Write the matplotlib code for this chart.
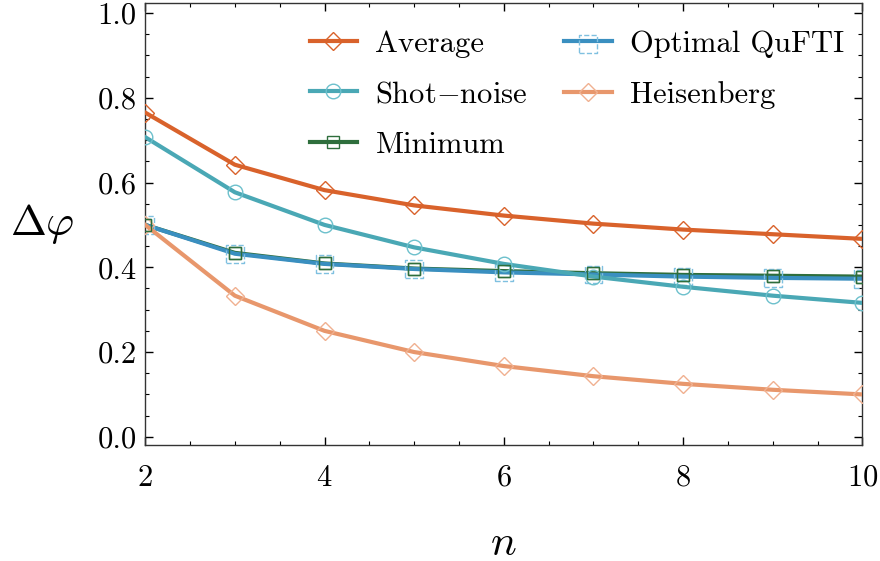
import matplotlib
matplotlib.use("Agg")
import matplotlib.pyplot as plt
from matplotlib.legend_handler import HandlerTuple
from matplotlib.ticker import MultipleLocator

plt.rcParams['font.family'] = 'serif'
plt.rcParams['font.serif'] = ['cmr10']
plt.rcParams['mathtext.fontset'] = 'cm'
plt.rcParams['axes.formatter.use_mathtext'] = True

# data
n = [2, 3, 4, 5, 6, 7, 8, 9, 10]
average = [0.765, 0.642, 0.582, 0.546, 0.522, 0.503, 0.489, 0.478, 0.467]
shot_noise = [0.707, 0.577, 0.500, 0.447, 0.408, 0.378, 0.354, 0.333, 0.316]
minimum = [0.500, 0.434, 0.409, 0.397, 0.391, 0.386, 0.382, 0.380, 0.378]
optimal = [0.500, 0.432, 0.408, 0.396, 0.388, 0.383, 0.378, 0.375, 0.373]
heisenberg = [0.500, 0.333, 0.250, 0.200, 0.167, 0.143, 0.125, 0.111, 0.100]

c_avg = '#d9622b'
c_shot = '#4aa8b5'
c_min = '#2e6e3c'
c_opt = '#3a8fc0'
c_heis = '#e8976c'

fig = plt.figure(figsize=(8.8, 5.61), dpi=100)
ax = fig.add_axes([0.165, 0.207, 0.815, 0.788])

lw = 3.0
l_avg, = ax.plot(n, average, color=c_avg, lw=lw, marker='D', ms=9,
                 mfc='none', mec=c_avg, mew=1.0, zorder=3)
l_shot, = ax.plot(n, shot_noise, color=c_shot, lw=lw, marker='o', ms=10.5,
                  mfc='none', mec='#6cc0cc', mew=1.0, zorder=3)
l_min, = ax.plot(n, minimum, color=c_min, lw=lw, marker='s', ms=8,
                 mfc='none', mec=c_min, mew=1.0, zorder=2)
l_opt, = ax.plot(n, optimal, color=c_opt, lw=lw, zorder=2.5)
s_opt = ax.scatter(n, optimal, marker='s', s=160, facecolors='none',
                   edgecolors='#7fc0e0', linewidths=1.0, linestyle='--', zorder=2.6)
l_heis, = ax.plot(n, heisenberg, color=c_heis, lw=lw, marker='D', ms=9,
                  mfc='none', mec='#f0b090', mew=1.0, zorder=3)
# green squares on top
ax.plot(n, minimum, ls='none', marker='s', ms=8, mfc='none', mec=c_min, mew=1.0, zorder=4)

ax.set_xlim(2, 10)
ax.set_ylim(-0.019, 1.024)
ax.xaxis.set_major_locator(MultipleLocator(2))
ax.xaxis.set_minor_locator(MultipleLocator(0.5))
ax.yaxis.set_minor_locator(MultipleLocator(0.05))
ax.set_yticks([0.0, 0.2, 0.4, 0.6, 0.8, 1.0])
ax.set_yticklabels(['0.0', '0.2', '0.4', '0.6', '0.8', '1.0'])
ax.tick_params(which='both', direction='in', top=True, right=True, labelsize=22)
ax.tick_params(which='major', length=6, width=1)
ax.tick_params(which='minor', length=3, width=0.8)
ax.tick_params(axis='x', pad=14)
ax.tick_params(axis='y', pad=6)
for sp in ax.spines.values():
    sp.set_linewidth(1.0)
    sp.set_color('#333333')

ax.set_xlabel(r'$n$', fontsize=31, labelpad=24)
ax.set_ylabel(r'$\Delta\varphi$', fontsize=31, rotation=0, labelpad=40, va='center')

handles = [l_avg, l_shot, l_min, (l_opt, s_opt), l_heis]
labels = ['Average', r'Shot$-$noise', 'Minimum', 'Optimal QuFTI', 'Heisenberg']
ax.legend(handles, labels, ncol=2, loc='upper right', frameon=False, fontsize=22,
          handlelength=1.55, columnspacing=1.2, handletextpad=0.6, labelspacing=0.75,
          borderaxespad=0.5, bbox_to_anchor=(1.013, 1.0),
          handler_map={tuple: HandlerTuple(ndivide=1)})

fig.savefig('out.png', dpi=100)
